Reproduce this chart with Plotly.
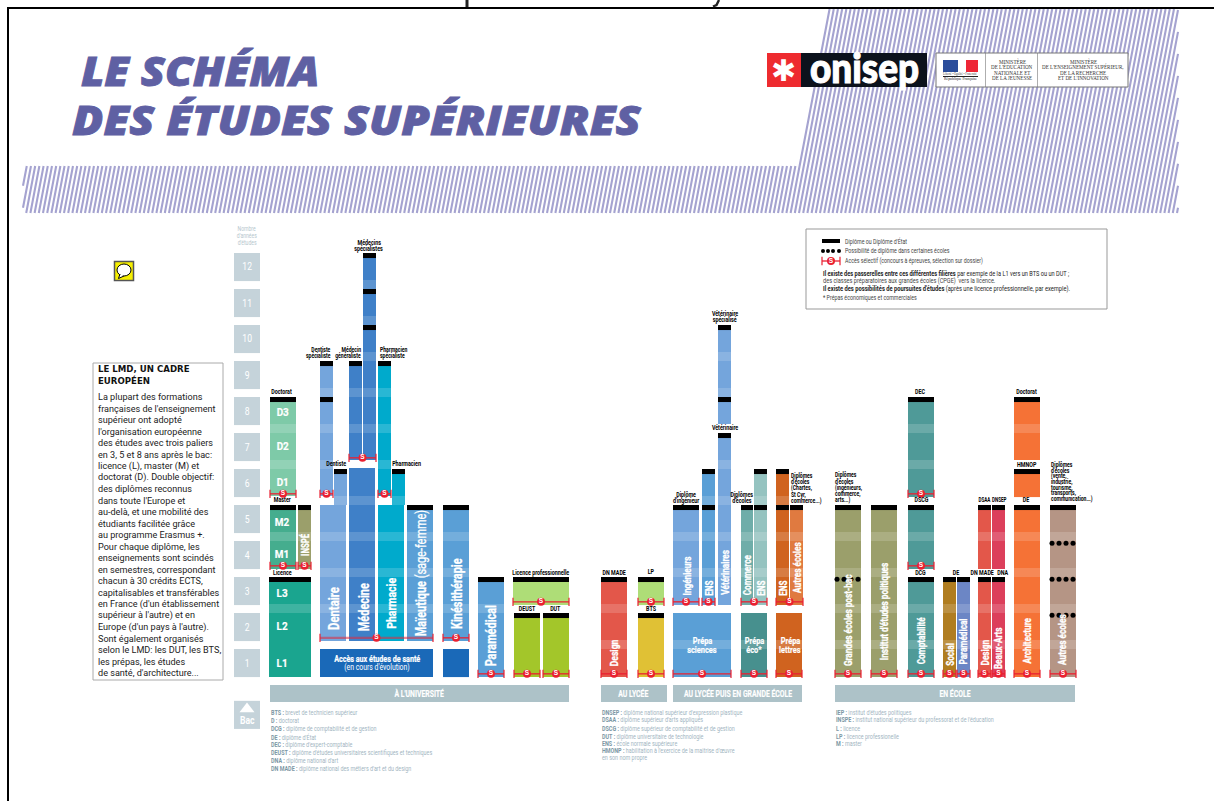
import plotly.graph_objects as go

# ---------- DATA ----------
year_tiles = [1, 2, 3, 4, 5, 6, 7, 8, 9, 10, 11, 12]

universite_segments = [
    ("D", 5.25, 8, True), ("M", 3.22, 5, True), ("L", 0.22, 3, True), ("INSPE", 3.22, 5, True),
    ("Dentaire", 1.22, 5, False), ("Dentiste", 5, 6, True),
    ("Dentiste spé", 5.25, 8, True), ("Dentiste spé", 8, 9, True),
    ("Médecine", 1.22, 6.03, False), ("Médecin gén", 6.25, 9, True),
    ("Médecins spé", 6.25, 10, True), ("Médecins spé", 10, 11, True), ("Médecins spé", 11, 12, True),
    ("Pharmacie", 1.22, 5, False), ("Pharmacien", 5, 6, True), ("Pharmacien spé", 5.25, 9, True),
    ("Maïeutique", 1.22, 5, True), ("Kiné", 1.22, 5, True), ("Kiné base", 0.22, 1, False),
    ("Accès santé", 0.22, 1, False), ("Paramédical U", 0.22, 3, True),
    ("Licence pro", 2.22, 3, True), ("DEUST", 0.22, 2, True), ("DUT", 0.22, 2, True),
]
lycee_segments = [
    ("DN MADE", 0.22, 3, True), ("LP", 2.22, 3, True), ("BTS", 0.22, 2, True),
]
prepa_segments = [
    ("Ingénieurs", 2.22, 5, True), ("Prépa sciences", 0.22, 2, False),
    ("ENS sciences", 2.22, 5, True), ("ENS sciences", 5, 6, True),
    ("Vétérinaires", 2.22, 7, True), ("Vétérinaires", 7.25, 8, True), ("Vétérinaires", 8, 10, True),
    ("Commerce", 2.22, 5, True), ("ENS éco", 2.22, 5, True), ("ENS éco", 5, 6, True),
    ("Prépa éco", 0.22, 2, False),
    ("ENS lettres", 2.22, 5, True), ("ENS lettres", 5, 6, True), ("Autres prépa", 2.22, 5, True),
    ("Prépa lettres", 0.22, 2, False),
]
ecole_segments = [
    ("Grandes écoles", 0.22, 5, True), ("IEP", 0.22, 5, True),
    ("Comptabilité", 0.22, 3, True), ("Comptabilité", 3.22, 5, True), ("Comptabilité", 5.22, 8, True),
    ("Social", 0.22, 3, True), ("Paramédical E", 0.22, 3, True),
    ("Design", 0.22, 3, True), ("Design", 3.22, 5, True),
    ("Beaux-Arts", 0.22, 3, True), ("Beaux-Arts", 3.22, 5, True),
    ("Architecture", 0.22, 5, True), ("Architecture", 5.22, 6, True), ("Architecture", 6.25, 8, True),
    ("Autres écoles", 0.22, 5, True),
]
no_first_year_band = ["L", "Paramédical U", "DEUST", "DUT", "BTS", "LP"]

selective_access = [
    ("D", "D", 5.31), ("M", "M", 3.31), ("INSPE", "INSPE", 3.31), ("Dentiste spé", "Dentiste spé", 5.31),
    ("Médecin gén", "Médecins spé", 6.31), ("Pharmacien spé", "Pharmacien spé", 5.31),
    ("Kiné", "Kiné", 1.31), ("Paramédical U", "Paramédical U", 0.31),
    ("Licence pro", "Licence pro", 2.31), ("DEUST", "DEUST", 0.31), ("DUT", "DUT", 0.31),
    ("DN MADE", "DN MADE", 0.31), ("LP", "LP", 2.31), ("BTS", "BTS", 0.31),
    ("Ingénieurs", "Ingénieurs", 2.31), ("ENS sciences", "ENS sciences", 2.31),
    ("Prépa sciences", "Prépa sciences", 0.31), ("Commerce", "ENS éco", 2.31), ("Prépa éco", "Prépa éco", 0.31),
    ("ENS lettres", "Autres prépa", 2.31), ("Prépa lettres", "Prépa lettres", 0.31),
    ("Grandes écoles", "Grandes écoles", 0.31), ("IEP", "IEP", 0.31),
    ("Comptabilité", "Comptabilité", 0.31), ("Comptabilité", "Comptabilité", 3.31), ("Comptabilité", "Comptabilité", 5.31),
    ("Social", "Social", 0.31), ("Paramédical E", "Paramédical E", 0.31), ("Design", "Design", 0.31),
    ("Beaux-Arts", "Beaux-Arts", 0.31), ("Architecture", "Architecture", 0.31), ("Autres écoles", "Autres écoles", 0.31),
]
selective_shared = [("Dentaire", "Maïeutique", 1.31)]
optional_diploma = [("Grandes écoles", 2.94), ("Autres écoles", 3.94), ("Autres écoles", 2.94), ("Autres écoles", 1.94)]

glossary_1 = [("BTS", "brevet de technicien supérieur"), ("D", "doctorat"), ("DCG", "diplôme de comptabilité et de gestion"),
              ("DE", "diplôme d'État"), ("DEC", "diplôme d'expert-comptable"),
              ("DEUST", "diplôme d'études universitaires scientifiques et techniques"),
              ("DNA", "diplôme national d'art"), ("DN MADE", "diplôme national des métiers d'art et du design")]
glossary_2 = [("DNSEP", "diplôme national supérieur d'expression plastique"), ("DSAA", "diplôme supérieur d'arts appliqués"),
              ("DSCG", "diplôme supérieur de comptabilité et de gestion"), ("DUT", "diplôme universitaire de technologie"),
              ("ENS", "école normale supérieure"), ("HMONP", "habilitation à l'exercice de la maîtrise d'œuvre"),
              ("", "en son nom propre")]
glossary_3 = [("IEP", "institut d'études politiques"), ("INSPE", "institut national supérieur du professorat et de l'éducation"),
              ("L", "licence"), ("LP", "licence professionelle"), ("M", "master")]

lmd_lines = ["La plupart des formations", "françaises de l'enseignement", "supérieur ont adopté",
             "l'organisation européenne", "des études avec trois paliers", "en 3, 5 et 8 ans après le bac:",
             "licence (L), master (M) et", "doctorat (D). Double objectif:", "des diplômes reconnus",
             "dans toute l'Europe et", "au-delà, et une mobilité des", "étudiants facilitée grâce",
             "au programme Erasmus +.", "Pour chaque diplôme, les", "enseignements sont scindés",
             "en semestres, correspondant", "chacun à 30 crédits ECTS,", "capitalisables et transférables",
             "en France (d'un établissement", "supérieur à l'autre) et en", "Europe (d'un pays à l'autre).",
             "Sont également organisés", "selon le LMD: les DUT, les BTS,", "les prépas, les études",
             "de santé, d'architecture..."]

# ---------- STYLE / LAYOUT ----------
COLUMNS = {
    "D": (270, 296, "#7ecaa8"), "M": (270, 296, "#45ad8e"), "L": (269, 311, "#1aa58f"), "INSPE": (298, 311, "#9b9f6b"),
    "Dentaire": (320, 346, "#74a5dc"), "Dentiste": (334, 347, "#74a5dc"), "Dentiste spé": (320, 333, "#74a5dc"),
    "Médecine": (349, 375, "#3f80c8"), "Médecin gén": (349, 362, "#3f80c8"), "Médecins spé": (363, 376, "#3f80c8"),
    "Pharmacie": (378, 404, "#00aacc"), "Pharmacien": (392, 405, "#00aacc"), "Pharmacien spé": (378, 391, "#00aacc"),
    "Maïeutique": (407, 433, "#5a9fd6"), "Kiné": (443, 469, "#5a9fd6"), "Kiné base": (443, 469, "#1a69b8"),
    "Accès santé": (320, 433, "#1a69b8"), "Paramédical U": (478, 504, "#5a9fd6"), "Licence pro": (513, 569, "#aedd77"),
    "DEUST": (514, 540, "#a3c62a"), "DUT": (543, 569, "#a3c62a"),
    "DN MADE": (601, 627, "#e3574a"), "LP": (638, 664, "#aedd77"), "BTS": (638, 664, "#e0c135"),
    "Ingénieurs": (673, 699, "#74a5dc"), "Prépa sciences": (673, 731, "#5a9fd6"), "ENS sciences": (702, 715, "#5a9fd6"),
    "Vétérinaires": (718, 731, "#74a5dc"), "Commerce": (741, 753, "#6fada9"), "ENS éco": (754, 767, "#95c3c0"),
    "Prépa éco": (741, 767, "#47908e"), "ENS lettres": (776, 789, "#d0631f"), "Autres prépa": (790, 803, "#e07a40"),
    "Prépa lettres": (776, 802, "#d0631f"),
    "Grandes écoles": (835, 861, "#9b9f6b"), "IEP": (871, 897, "#9b9f6b"), "Comptabilité": (908, 934, "#4f9a98"),
    "Social": (943, 956, "#b07d20"), "Paramédical E": (957, 970, "#6c86c5"), "Design": (978, 991, "#e3574a"),
    "Beaux-Arts": (992, 1005, "#dc3f5b"), "Architecture": (1014, 1040, "#f57236"), "Autres écoles": (1050, 1076, "#b59585"),
}
W, H = 1214, 801
NARROW = "Roboto"
PURPLE = "#5f60a3"
HATCH = "#a5a3d0"
RED = "#ea2031"
TILE = "#c5d3da"
BANNER = "#adc2c8"
GLOSS_B = "#7b97a4"
GLOSS_L = "#a2b5bf"
CAP = 0.14
K = 0.78


def yr(p):
    return (685 - p) / 36


annotations, shapes = [], []


def label(text, px, py, size=6.5, color="#000", family=NARROW, anchor="center", angle=0, weight=None, style=None,
          squeeze=None, stroke=0):
    font = dict(size=size, color=color, family=family)
    if weight:
        font["weight"] = weight
    if style:
        font["style"] = style
    if squeeze is None:
        squeeze = K if family == NARROW else 1
    annotations.append(dict(text=text, x=px / W, y=1 - py / H, xref="paper", yref="paper", showarrow=False,
                            xanchor=anchor, yanchor="middle", textangle=angle, font=font, borderpad=0,
                            name=f"{squeeze}|{stroke}"))


def rect(x0, y0, x1, y1, fill=None, line=None, lw=1, layer="below"):
    shapes.append(dict(type="rect", xref="paper", yref="paper", x0=x0 / W, x1=x1 / W, y0=1 - y0 / H, y1=1 - y1 / H,
                       fillcolor=fill or "rgba(0,0,0,0)", line=dict(color=line or "rgba(0,0,0,0)", width=lw if line else 0),
                       layer=layer))


def px_path(points, **kw):
    d = "M" + "L".join(f"{x / W:.5f},{1 - y / H:.5f}" for x, y in points)
    shapes.append(dict(type="path", xref="paper", yref="paper", path=d, **kw))


# --- hatch
slope = 30 / 157
parts = []
xb = -20.0
while xb < 1178:
    top = 9 if xb >= 790 else 166
    y0, x0 = 213, xb
    y1, x1 = top, xb + slope * (213 - top)
    if x0 < 23:
        if x1 <= 23:
            xb += 4.2
            continue
        y0 = 213 - (23 - x0) / slope
        x0 = 23
    if x1 > 1178:
        y1 = 213 - (1178 - x0) / slope
        x1 = 1178
    parts.append(f"M{x0 / W:.5f},{1 - y0 / H:.5f}L{x1 / W:.5f},{1 - y1 / H:.5f}")
    xb += 4.2
shapes.append(dict(type="path", xref="paper", yref="paper", path="".join(parts), line=dict(color=HATCH, width=2.1), layer="below"))

# --- page frame, with the descenders of the cut-off line above it
rect(7, 7, W, 9, fill="#000")
rect(7, 7, 9, H, fill="#000")
rect(465.5, 0, 468.5, 7, fill="#222")
px_path([(719, 0), (716.5, 5), (713, 6.5)], line=dict(color="#222", width=2.4))

# --- bars
all_segments = universite_segments + lycee_segments + prepa_segments + ecole_segments
bx, bw, bb, bh, bc = [], [], [], [], []
band_x, band_w, band_b = [], [], []
cap_x, cap_w, cap_b = [], [], []
for name, start, end, diploma in all_segments:
    x0, x1, colour = COLUMNS[name]
    bx.append((x0 + x1) / 2); bw.append(x1 - x0); bb.append(start); bh.append(end - start); bc.append(colour)
    if diploma:
        cap_x.append((x0 + x1) / 2); cap_w.append(x1 - x0); cap_b.append(end - CAP)
    k = 1
    while k < 12:
        if start <= k + 0.001 and k + 0.22 <= end + 0.001 and not (k == 1 and name in no_first_year_band):
            band_x.append((x0 + x1) / 2); band_w.append(x1 - x0); band_b.append(k)
        k += 1

# year tiles
tile_x = [247] * (len(year_tiles) + 1)
tile_b = [n - 0.78 for n in year_tiles] + [-1.22]
tile_h = [0.78] * (len(year_tiles) + 1)

fig = go.Figure()
fig.add_bar(x=tile_x, y=tile_h, base=tile_b, width=[26] * len(tile_x), marker=dict(color=TILE, line_width=0), name="Années")
# category banners
banner_names = ["À L'UNIVERSITÉ", "AU LYCÉE", "AU LYCÉE PUIS EN GRANDE ÉCOLE", "EN ÉCOLE"]
banner_span = [(270, 569), (601, 667), (673, 802), (835, 1075)]
fig.add_bar(x=[(a + b) / 2 for a, b in banner_span], width=[b - a for a, b in banner_span], y=[yr(685) - yr(702)] * 4,
            base=[yr(702)] * 4, marker=dict(color=BANNER, line_width=0), name="Filières")
fig.add_bar(x=bx, y=bh, base=bb, width=bw, marker=dict(color=bc, line_width=0), name="Cursus")
fig.add_bar(x=band_x, y=[0.25] * len(band_x), base=band_b, width=band_w,
            marker=dict(color="#fff", opacity=0.16, line_width=0), name="Interannée")
fig.add_bar(x=cap_x, y=[CAP] * len(cap_x), base=cap_b, width=cap_w, marker=dict(color="#000", line_width=0), name="Diplôme")

# --- selective access
sx, sy, tx, ty, cx, cy = [], [], [], [], [], []
for first, last, year in selective_access:
    a, b = COLUMNS[first][0], COLUMNS[last][1]
    sx += [a, b, None]; sy += [year, year, None]
    tx += [a, b]; ty += [year, year]
    cx.append((a + b) / 2); cy.append(year)
# legend sample
a, b, year = 822, 840, yr(261)
sx += [a, b, None]; sy += [year, year, None]; tx += [a, b]; ty += [year, year]; cx.append((a + b) / 2); cy.append(year)
sxs, sys = [], []
for first, last, year in selective_shared:
    a, b = COLUMNS[first][0], COLUMNS[last][1]
    sxs += [a, b, None]; sys += [year, year, None]
    tx += [a, b]; ty += [year, year]
    cx.append((a + b) / 2); cy.append(year)

fig.add_scatter(x=sxs, y=sys, mode="lines", line=dict(color="rgba(225,40,60,0.55)", width=2.2), name="Accès commun")
fig.add_scatter(x=sx, y=sy, mode="lines", line=dict(color=RED, width=1.3), name="Accès")
fig.add_scatter(x=tx, y=ty, mode="markers", marker=dict(symbol="line-ns", size=6, line=dict(color=RED, width=1.2)), name="Bornes")
fig.add_scatter(x=cx, y=cy, mode="markers+text", marker=dict(color=RED, size=8), text=["S"] * len(cx),
                textposition="middle center", textfont=dict(color="#fff", size=6.5, family="Liberation Sans", weight=700), name="Sélectif")

# --- optional diploma dots
dx, dy = [], []
for name, year in optional_diploma:
    x0 = COLUMNS[name][0]
    for off in (2, 9, 16, 23):
        dx.append(x0 + off); dy.append(year)
fig.add_scatter(x=dx, y=dy, mode="markers", marker=dict(color="#000", size=5), name="Possibilité")
fig.add_scatter(x=[823, 828, 833, 839], y=[yr(251)] * 4, mode="markers", marker=dict(color="#000", size=4), name="Légende")

# Bac triangle
fig.add_scatter(x=[247], y=[yr(709)], mode="markers", marker=dict(symbol="triangle-up", size=13, color="#fff"), name="Bac")

# --- legend box + boxes
rect(806, 229, 1107, 309, fill="#fff", line="#999", lw=1)
rect(822, 239, 840, 243, fill="#000", layer="above")
rect(93, 363, 223, 680, fill="#fff", line="#aaa", lw=1)

# --- logo & ministry
rect(767, 53, 801, 87, fill="#ee2b2f")
rect(801, 53, 927, 87, fill="#0c121c")
label("onisep", 864, 68, size=41, color="#fff", family="Lato", weight=900, squeeze=0.9, stroke=1.1)
label("✱", 784, 70, size=30, color="#fff", family="DejaVu Sans", weight=700)
rect(936, 53, 1128, 87, fill="#fff", line="#777", lw=1)
rect(985, 53, 985.6, 87, fill="#777")
rect(1037, 53, 1037.6, 87, fill="#777")
rect(943, 60, 958, 72, fill="#2a4d9b")
rect(966, 60, 978, 72, fill="#ee2636")
rect(943, 76, 978, 77, fill="#222")
label("Liberté • Égalité • Fraternité", 960.5, 73.7, size=3, color="#444", family="Liberation Serif")
label("République Française", 960.5, 79, size=3.8, color="#222", family="Liberation Serif")
for text, py in zip(["MINISTÈRE", "DE L'ÉDUCATION", "NATIONALE ET", "DE LA JEUNESSE"], [61.5, 67, 72.5, 78]):
    label(text, 1012, py, size=5.1, color="#333", family="Liberation Serif")
for text, py in zip(["MINISTÈRE", "DE L'ENSEIGNEMENT SUPÉRIEUR,", "DE LA RECHERCHE", "ET DE L'INNOVATION"], [61.5, 67, 72.5, 78]):
    label(text, 1083, py, size=5.1, color="#333", family="Liberation Serif")

# --- title
label("LE SCHÉMA", 80, 70, size=41, color=PURPLE, family="Open Sans", anchor="left", weight=800, style="italic", squeeze=1.08, stroke=0.9)
label("DES ÉTUDES SUPÉRIEURES", 71, 119, size=41, color=PURPLE, family="Open Sans", anchor="left", weight=800, style="italic", squeeze=1.12, stroke=0.9)

# --- speech icon
rect(114.5, 261.5, 133.5, 280.5, fill="#f6ef00", line="#555", lw=1.5)
shapes.append(dict(type="circle", xref="paper", yref="paper", x0=117 / W, x1=131 / W, y0=1 - 276 / H, y1=1 - 264 / H,
                   fillcolor="#fff", line=dict(color="#000", width=1)))
px_path([(120, 274), (118.5, 278.5), (124, 276)], fillcolor="#fff", line=dict(color="#000", width=1))

# --- year tiles text
for n in year_tiles:
    label(str(n), 247, 685 - 36 * n + 14, size=11, color="#fff")
label("<b>Bac</b>", 247, 720, size=11, color="#fff")
for t, py in zip(["Nombre", "d'années", "d'études"], [229, 236, 243]):
    label(t, 247, py, size=6.5, color="#b5c6cd")

# --- small black labels
small = [
    ("Doctorat", 282, 392), ("Master", 282, 500), ("Licence", 282, 573),
    ("Médecins", 369, 243), ("spécialistes", 369, 249),
    ("Dentiste", 336, 464), ("Pharmacien", 406, 464),
    ("Licence professionnelle", 541, 573), ("DEUST", 527, 609), ("DUT", 555, 609),
    ("DN MADE", 614, 573), ("LP", 651, 572), ("BTS", 651, 609),
    ("Vétérinaire", 725, 314), ("spécialisé", 725, 320), ("Vétérinaire", 725, 428),
    ("Diplôme", 686, 495), ("d'ingénieur", 686, 501), ("Diplômes", 742, 495), ("d'écoles", 742, 501),
    ("DEC", 920, 392), ("DSCG", 921, 500), ("DCG", 920, 573), ("DE", 956, 573),
    ("DSAA", 984.5, 500), ("DNSEP", 999, 500), ("DN MADE", 982, 573), ("DNA", 1003, 573),
    ("Doctorat", 1027, 392), ("HMNOP", 1027, 465), ("DE", 1026, 500),
]
for t, px, py in small:
    sq = 0.7 if t in ("DSAA", "DNSEP") else 0.82
    label(f"<b>{t}</b>", px, py, size=6.5, squeeze=sq)
for t, py in (("Dentiste", 350), ("spécialiste", 356)):
    label(f"<b>{t}</b>", 332, py, anchor="right")
for t, py in (("Médecin", 350), ("généraliste", 356)):
    label(f"<b>{t}</b>", 362, py, anchor="right")
for t, py in (("Pharmacien", 350), ("spécialiste", 356)):
    label(f"<b>{t}</b>", 379, py, anchor="left")
for t, py in zip(["Diplômes", "d'écoles", "(Chartes,", "St Cyr,", "commerce...)"], [476, 482, 488, 495, 501]):
    label(f"<b>{t}</b>", 790, py, anchor="left")
for t, py in zip(["Diplômes", "d'écoles", "(ingénieurs,", "commerce,", "arts...)"], [475, 482, 488, 494, 500]):
    label(f"<b>{t}</b>", 834, py, anchor="left")
for t, py in zip(["Diplômes", "d'écoles", "(vente,", "industrie,", "tourisme,", "transports,", "communication...)"],
                 [465, 471, 476, 482, 488, 493, 499]):
    label(f"<b>{t}</b>", 1050, py, anchor="left")

# --- degree labels in bars
for t, px, py in [("D3", 282, 412), ("D2", 282, 446), ("D1", 282, 482), ("M2", 282, 522), ("M1", 282, 554),
                  ("L3", 282, 593), ("L2", 282, 626), ("L1", 282, 663)]:
    label(f"<b>{t}</b>", px, py, size=11, color="#fff", squeeze=0.9, stroke=0.2)

# --- vertical labels
vertical = [
    ("INSPÉ", 305, 545, 10), ("Dentaire", 334, 609, 14.5), ("Médecine", 364, 607, 14), ("Pharmacie", 391, 604, 13.5),
    ("Maïeutique</b> (sage-femme)<b>", 421, 573, 14), ("Kinésithérapie", 457, 594, 14), ("Paramédical", 491, 636, 14),
    ("Design", 614, 653, 11), ("Ingénieurs", 687, 576, 10.5), ("ENS", 709, 588, 10.5), ("Vétérinaires", 725, 572, 10.5),
    ("Commerce", 747, 575, 10.5), ("ENS", 761, 588, 10.5), ("ENS", 783, 588, 10.5), ("Autres écoles", 797, 568, 10.5),
    ("Grandes écoles post-bac", 848, 620, 10.5), ("Institut d'études politiques", 884, 612, 10.5),
    ("Comptabilité", 921, 641, 10.5), ("Social", 950, 655, 10.5), ("Paramédical", 963, 642, 10.5),
    ("Design", 985, 653, 10.5), ("Beaux-Arts", 998, 648, 10.5), ("Architecture", 1027, 641, 10.5), ("Autres écoles", 1062, 640, 10.5),
]
for t, px, py, sz in vertical:
    label(f"<b>{t}</b>", px, py, size=sz, color="#fff", angle=-90, stroke=0.3)

# --- horizontal labels in blocks
label("<b>Accès aux études de santé</b>", 377, 658, size=9.2, color="#fff", stroke=0.2)
label("(en cours d'évolution)", 377, 667, size=8.8, color="#fff")
for t, px, py in [("Prépa", 702, 640), ("sciences", 702, 649), ("Prépa", 754, 640), ("éco*", 754, 649),
                  ("Prépa", 790, 640), ("lettres", 790, 649)]:
    label(f"<b>{t}</b>", px, py, size=9.5, color="#fff", stroke=0.2)

# --- banners
for name, (a, b) in zip(banner_names, banner_span):
    label(f"<b>{name}</b>", (a + b) / 2, 693.5, size=8.4, color="#fff", squeeze=0.82, stroke=0.15)


# --- glossaries
def glossary(rows, px, ys):
    for (abbr, text), py in zip(rows, ys):
        head = f'<b><span style="color:{GLOSS_B}">{abbr} : </span></b>' if abbr else ""
        label(f"{head}{text}", px, py, size=6.3, color=GLOSS_L, anchor="left", squeeze=0.86)


glossary(glossary_1, 270, [713, 721, 729, 737, 745, 753, 761, 769])
glossary(glossary_2, 601, [713, 720, 729, 737, 744, 751, 758])
glossary(glossary_3, 835, [713, 720, 729, 737, 744])

# --- legend text
label("Diplôme ou Diplôme d'État", 844, 241, size=6.3, color="#444", anchor="left", squeeze=0.84)
label("Possibilité de diplôme dans certaines écoles", 844, 251, size=6.3, color="#444", anchor="left", squeeze=0.84)
label("Accès sélectif (concours à épreuves, sélection sur dossier)", 844, 261, size=6.3, color="#444", anchor="left", squeeze=0.84)
label("<b>Il existe des passerelles entre ces différentes filières</b> par exemple de la L1 vers un BTS ou un DUT ;", 822, 273.5, size=6.3, color="#222", anchor="left", squeeze=0.89)
label("des classes préparatoires aux grandes écoles (CPGE)  vers la licence.", 822, 281, size=6.3, color="#444", anchor="left", squeeze=0.89)
label("<b>Il existe des possibilités de poursuites d'études</b> (après une licence professionnelle, par exemple).", 822, 289, size=6.3, color="#222", anchor="left", squeeze=0.91)
label("* Prépas économiques et commerciales", 822, 297.5, size=6.3, color="#444", anchor="left", squeeze=0.84)

# --- LMD box
label("LE LMD, UN CADRE", 97, 369, size=8.6, color="#111", family="DejaVu Sans", anchor="left", weight=700)
label("EUROPÉEN", 97, 380, size=8.6, color="#111", family="DejaVu Sans", anchor="left", weight=700)
for i, line in enumerate(lmd_lines):
    label(line, 97, 397 + i * 11.5, size=9.1, color="#222", family="Roboto", anchor="left", squeeze=1)

fig.update_layout(
    width=W, height=H, margin=dict(l=0, r=0, t=0, b=0), autosize=False, showlegend=False, barmode="overlay",
    paper_bgcolor="#fff", plot_bgcolor="rgba(0,0,0,0)", hovermode=False,
    xaxis=dict(range=[0, W], visible=False, fixedrange=True),
    yaxis=dict(range=[yr(H), yr(0)], visible=False, fixedrange=True),
    annotations=annotations, shapes=shapes,
)

# Condense the labels horizontally (no condensed face is installed) with SVG's own textLength.
SQUEEZE_JS = """
document.body.style.margin='0';document.documentElement.style.overflow='hidden';
var gd=document.getElementById('{plot_id}');
gd.querySelectorAll('.annotation').forEach(function(g){
  var a=gd.layout.annotations[+g.getAttribute('data-index')];
  var p=(a.name||'1|0').split('|'), k=parseFloat(p[0]), st=parseFloat(p[1]);
  var t=g.querySelector('text.annotation-text'); if(!t){return;}
  if(st>0){t.style.stroke=a.font.color;t.style.strokeWidth=st+'px';}
  if(!k||k===1){return;}
  var w=t.getComputedTextLength(), n=w*k;
  t.setAttribute('textLength',n); t.setAttribute('lengthAdjust','spacingAndGlyphs');
  var s=(w-n)/2, x=parseFloat(t.getAttribute('x'))||0;
  if(a.xanchor==='left'){t.setAttribute('x',x-s);}
  if(a.xanchor==='right'){t.setAttribute('x',x+s);}
});
"""
fig.write_html("out.html", config=dict(displayModeBar=False, responsive=False), post_script=SQUEEZE_JS)
